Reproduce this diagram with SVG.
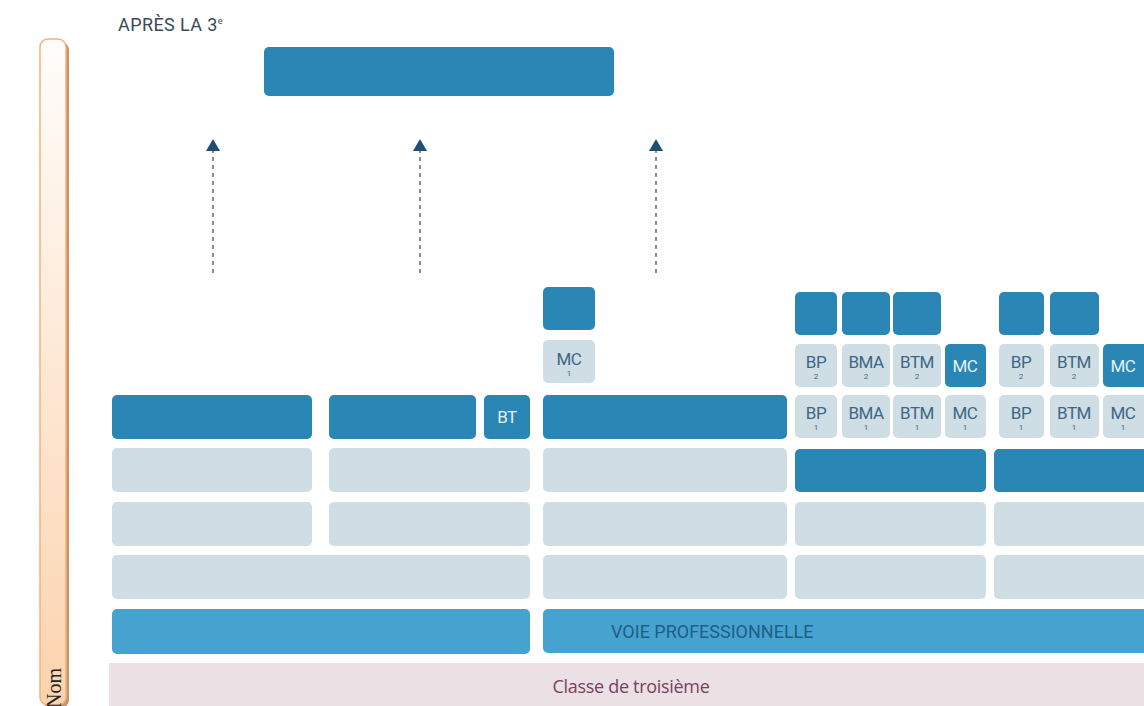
<svg xmlns="http://www.w3.org/2000/svg" width="1144" height="706" viewBox="0 0 1144 706">
<defs>
<linearGradient id="nomGrad" x1="0" y1="0" x2="0" y2="1">
<stop offset="0" stop-color="#fffdfb"/>
<stop offset="1" stop-color="#fcd3ae"/>
</linearGradient>
<marker id="tri" markerWidth="12" markerHeight="14" refX="1" refY="7" orient="auto" markerUnits="userSpaceOnUse" viewBox="0 0 12 14">
<path d="M0,0 L12,7 L0,14 Z" fill="#1c4f72"/>
</marker>
<style>
.dark{fill:#2a87b5}
.light{fill:#cfdde4}
.mid{fill:#46a3d0}
.lab{font-family:Roboto,"Liberation Sans",sans-serif;font-size:17px;fill:#3e6784;text-anchor:middle;letter-spacing:-0.5px}
.sub{font-family:Roboto,"Liberation Sans",sans-serif;font-size:8px;fill:#3e6784;text-anchor:middle}
.wlab{font-family:Roboto,"Liberation Sans",sans-serif;font-size:17px;fill:#e4f1f8;text-anchor:middle;letter-spacing:-0.5px}
.conn{stroke:#6a6a6a;stroke-width:1.5;stroke-dasharray:4,4;fill:none}
</style>
</defs>
<rect width="1144" height="706" fill="#ffffff"/>

<g id="nom">
<rect x="43" y="42" width="26" height="666" rx="8" fill="#c8946a"/>
<rect x="40" y="39" width="26" height="666" rx="8" fill="url(#nomGrad)" stroke="#f5b17c" stroke-width="1.5"/>
<text transform="translate(61,708) rotate(-90)" font-family="'Liberation Serif',serif" font-size="20" fill="#222">Nom</text>
</g>

<g id="title">
<text x="118" y="31" font-family="Roboto,'Liberation Sans',sans-serif" font-size="18" fill="#3a4a56" letter-spacing="0.4">APRÈS LA 3<tspan font-size="9" dy="-7">e</tspan></text>
</g>

<g id="top-bar"><rect class="dark" x="264" y="47" width="350" height="49" rx="5"/></g>

<g id="connectors">
<line class="conn" x1="213" y1="273" x2="213" y2="150" marker-end="url(#tri)"/>
<line class="conn" x1="420" y1="273" x2="420" y2="150" marker-end="url(#tri)"/>
<line class="conn" x1="656" y1="273" x2="656" y2="150" marker-end="url(#tri)"/>
</g>

<g id="row1">
<rect class="dark" x="543" y="287" width="52" height="43" rx="5"/>
<rect class="dark" x="795" y="292" width="42" height="43" rx="5"/>
<rect class="dark" x="842" y="292" width="48" height="43" rx="5"/>
<rect class="dark" x="893" y="292" width="48" height="43" rx="5"/>
<rect class="dark" x="999" y="292" width="45" height="43" rx="5"/>
<rect class="dark" x="1050" y="292" width="49" height="43" rx="5"/>
</g>

<g id="row2">
<g id="mc1-top"><rect class="light" x="543" y="340" width="52" height="43" rx="5"/><text class="lab" x="569" y="365">MC</text><text class="sub" x="569" y="376">1</text></g>
<g id="bp2a"><rect class="light" x="795" y="344" width="42" height="43" rx="5"/><text class="lab" x="816" y="368">BP</text><text class="sub" x="816" y="379">2</text></g>
<g id="bma2"><rect class="light" x="842" y="344" width="48" height="43" rx="5"/><text class="lab" x="866" y="368">BMA</text><text class="sub" x="866" y="379">2</text></g>
<g id="btm2a"><rect class="light" x="893" y="344" width="48" height="43" rx="5"/><text class="lab" x="917" y="368">BTM</text><text class="sub" x="917" y="379">2</text></g>
<g id="mc-a"><rect class="dark" x="945" y="344" width="41" height="43" rx="5"/><text class="wlab" x="965" y="372">MC</text></g>
<g id="bp2b"><rect class="light" x="999" y="344" width="45" height="43" rx="5"/><text class="lab" x="1021" y="368">BP</text><text class="sub" x="1021" y="379">2</text></g>
<g id="btm2b"><rect class="light" x="1050" y="344" width="49" height="43" rx="5"/><text class="lab" x="1074" y="368">BTM</text><text class="sub" x="1074" y="379">2</text></g>
<g id="mc-b"><rect class="dark" x="1103" y="344" width="45" height="43" rx="5"/><text class="wlab" x="1123" y="372">MC</text></g>
</g>

<g id="row3">
<rect class="dark" x="112" y="395" width="200" height="44" rx="5"/>
<rect class="dark" x="329" y="395" width="147" height="44" rx="5"/>
<g id="bt"><rect class="dark" x="484" y="395" width="46" height="44" rx="5"/><text class="wlab" x="507" y="423">BT</text></g>
<rect class="dark" x="543" y="395" width="244" height="44" rx="5"/>
<g id="bp1a"><rect class="light" x="795" y="395" width="42" height="43" rx="5"/><text class="lab" x="816" y="419">BP</text><text class="sub" x="816" y="430">1</text></g>
<g id="bma1"><rect class="light" x="842" y="395" width="48" height="43" rx="5"/><text class="lab" x="866" y="419">BMA</text><text class="sub" x="866" y="430">1</text></g>
<g id="btm1a"><rect class="light" x="893" y="395" width="48" height="43" rx="5"/><text class="lab" x="917" y="419">BTM</text><text class="sub" x="917" y="430">1</text></g>
<g id="mc1a"><rect class="light" x="945" y="395" width="41" height="43" rx="5"/><text class="lab" x="965" y="419">MC</text><text class="sub" x="965" y="430">1</text></g>
<g id="bp1b"><rect class="light" x="999" y="395" width="45" height="43" rx="5"/><text class="lab" x="1021" y="419">BP</text><text class="sub" x="1021" y="430">1</text></g>
<g id="btm1b"><rect class="light" x="1050" y="395" width="49" height="43" rx="5"/><text class="lab" x="1074" y="419">BTM</text><text class="sub" x="1074" y="430">1</text></g>
<g id="mc1b"><rect class="light" x="1103" y="395" width="45" height="43" rx="5"/><text class="lab" x="1123" y="419">MC</text><text class="sub" x="1123" y="430">1</text></g>
</g>

<g id="row4">
<rect class="light" x="112" y="448" width="200" height="44" rx="5"/>
<rect class="light" x="329" y="448" width="201" height="44" rx="5"/>
<rect class="light" x="543" y="448" width="244" height="44" rx="5"/>
<rect class="dark" x="795" y="449" width="191" height="43" rx="5"/>
<rect class="dark" x="994" y="449" width="154" height="43" rx="5"/>
</g>

<g id="row5">
<rect class="light" x="112" y="502" width="200" height="44" rx="5"/>
<rect class="light" x="329" y="502" width="201" height="44" rx="5"/>
<rect class="light" x="543" y="502" width="244" height="44" rx="5"/>
<rect class="light" x="795" y="502" width="191" height="44" rx="5"/>
<rect class="light" x="994" y="502" width="154" height="44" rx="5"/>
</g>

<g id="row6">
<rect class="light" x="112" y="555" width="418" height="44" rx="5"/>
<rect class="light" x="543" y="555" width="244" height="44" rx="5"/>
<rect class="light" x="795" y="555" width="191" height="44" rx="5"/>
<rect class="light" x="994" y="555" width="154" height="44" rx="5"/>
</g>

<g id="row7">
<rect class="mid" x="112" y="609" width="418" height="45" rx="5"/>
<g id="voie-pro"><rect class="mid" x="543" y="609" width="605" height="44" rx="5"/>
<text x="611" y="638" font-family="Roboto,'Liberation Sans',sans-serif" font-size="18" fill="#1f5e86">VOIE PROFESSIONNELLE</text></g>
</g>

<g id="troisieme">
<rect x="109" y="663" width="1040" height="50" fill="#ebe0e3"/>
<text x="631" y="693" text-anchor="middle" font-family="'Open Sans',Roboto,sans-serif" font-size="18" fill="#7a3f62" letter-spacing="-0.3">Classe de troisième</text>
</g>
</svg>
